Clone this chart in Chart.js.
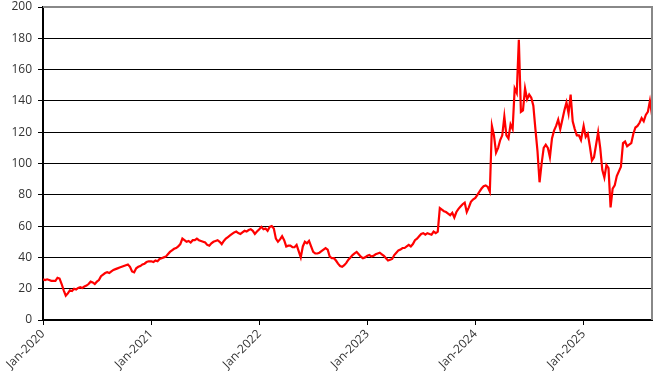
<!DOCTYPE html>
<html>
<head>
<meta charset="utf-8">
<script src="https://cdn.jsdelivr.net/npm/chart.js@4.4.0/dist/chart.umd.min.js"></script>
<style>
    html, body { margin: 0; padding: 0; background: #fff; }
    #wrap { width: 671px; height: 380px; }
</style>
</head>
<body>
<div id="wrap"><canvas id="priceChart"></canvas></div>
<script>
// Weekly closing values, one array per calendar year
const values2020 = [26, 25.5, 26, 25.5, 25, 25, 25, 27, 26.5, 23, 19, 15.5, 17, 19, 18.5, 20, 19.5, 20.5, 21, 20.5, 21.5, 22, 23, 24.5, 24, 23, 24.5, 25.5, 28, 29, 30, 30.5, 30, 31, 32, 32.5, 33, 33.5, 34, 34.5, 35, 35.5, 34, 31, 30.5, 33, 34, 34.5, 35.5, 36, 37, 37.5];
const values2021 = [37.5, 37, 38, 37.5, 39, 39.5, 40, 40.5, 42, 43.5, 44.5, 45.5, 46, 47, 48.5, 52, 51, 50, 50.5, 49.5, 51, 51, 52, 51, 50.5, 50, 49.5, 48, 47.5, 49, 50, 50.5, 51, 50, 48.5, 50.5, 52, 53, 54, 55, 56, 56.5, 55.5, 55, 56, 57, 56.5, 57.5, 58, 57, 55, 56.5];
const values2022 = [58, 59.5, 58, 58.5, 57, 59.5, 60, 58.5, 52, 50, 51.5, 53.5, 51, 47, 47.5, 47.5, 46.5, 46.5, 48, 44, 40, 47, 50, 49, 50.5, 47, 43.5, 42.5, 42.5, 43, 44, 45, 46, 45, 40.5, 39.5, 39.5, 38, 36, 34.5, 34, 35, 36.5, 38.5, 40, 41.5, 42.5, 43.5, 42, 40.5, 39.5, 40];
const values2023 = [41, 41.5, 40.5, 41, 42, 42.5, 43, 42, 41, 39.5, 38, 38.5, 39, 41.5, 43, 44.5, 45, 46, 46, 47, 48, 47, 48.5, 51, 52, 53.5, 55, 55.5, 54.5, 55.5, 55, 54.5, 56.5, 55.5, 56.5, 71.5, 70.5, 69.5, 69, 68, 67, 68.5, 65.5, 69, 71, 72.5, 74, 75, 69, 72, 75.5, 77];
const values2024 = [78, 80, 82, 84, 85.5, 86, 85, 82, 124, 118, 107, 110, 115, 118, 130, 118, 116, 125, 122, 148, 145, 179, 133, 134, 148, 141, 144, 142, 137, 122, 108, 88, 100, 110, 112, 110, 104, 116, 121, 124, 128, 122, 128, 134, 139, 132, 144, 127, 122, 118, 118, 115];
const values2025 = [124, 117, 119, 111, 102, 104, 112, 120, 110, 96, 91, 99, 97, 72, 84, 86, 92, 95, 98, 113, 114, 111, 112, 113, 119, 123, 124, 126, 129, 127, 131, 133, 140, 131];

const years = [2020, 2021, 2022, 2023, 2024, 2025];
const yearLabels = ['Jan-2020', 'Jan-2021', 'Jan-2022', 'Jan-2023', 'Jan-2024', 'Jan-2025'];
const yTicks = { min: 0, max: 200, step: 20 };

// days since 1 Jan 2020
function dayOf(y, m, d) {
    return (Date.UTC(y, m, d) - Date.UTC(2020, 0, 1)) / 86400000;
}

const seriesByYear = [values2020, values2021, values2022, values2023, values2024, values2025];
const points = [];
seriesByYear.forEach((vals, k) => {
    const start = dayOf(years[k], 0, 1);
    vals.forEach((v, i) => points.push({ x: start + 7 * i, y: v }));
});
const yearStarts = years.map(y => dayOf(y, 0, 1));
const lastDay = points[points.length - 1].x;

const labelFont = { family: "'Open Sans', sans-serif", size: 12 };
const labelColor = '#333';

// gray top/right frame like the original
const framePlugin = {
    id: 'frame',
    afterDraw(chart) {
        const { ctx, chartArea } = chart;
        ctx.save();
        ctx.strokeStyle = '#888';
        ctx.lineWidth = 2;
        ctx.beginPath();
        ctx.moveTo(chartArea.left, chartArea.top);
        ctx.lineTo(chartArea.right, chartArea.top);
        ctx.lineTo(chartArea.right, chartArea.bottom);
        ctx.stroke();
        ctx.restore();
    }
};

new Chart(document.getElementById('priceChart'), {
    type: 'line',
    data: {
        datasets: [{
            data: points,
            borderColor: '#ff0000',
            borderWidth: 2.2,
            pointRadius: 0,
            tension: 0,
            fill: false
        }]
    },
    options: {
        responsive: true,
        maintainAspectRatio: false,
        animation: false,
        layout: { padding: { top: 7, right: 19, left: 0, bottom: 0 } },
        plugins: { legend: { display: false }, tooltip: { enabled: false } },
        scales: {
            x: {
                type: 'linear',
                min: 0,
                max: lastDay,
                afterBuildTicks: scale => { scale.ticks = yearStarts.map(v => ({ value: v })); },
                afterFit: scale => { scale.height = 60; },
                ticks: {
                    autoSkip: false,
                    maxRotation: 45,
                    minRotation: 45,
                    padding: 2,
                    font: labelFont,
                    color: labelColor,
                    callback: (value, index) => yearLabels[index]
                },
                grid: { drawOnChartArea: false, drawTicks: true, tickLength: 5, color: '#000' },
                border: { color: '#000', width: 2 }
            },
            y: {
                min: yTicks.min,
                max: yTicks.max,
                afterFit: scale => {
                    scale.width = 43;
                    scale.paddingTop = 0; // let the plot start right under the top margin
                },
                ticks: { stepSize: yTicks.step, padding: 6, font: labelFont, color: labelColor },
                grid: { color: '#000', lineWidth: 1, tickLength: 5 },
                border: { color: '#000', width: 2 }
            }
        }
    },
    plugins: [framePlugin]
});
</script>
</body>
</html>
